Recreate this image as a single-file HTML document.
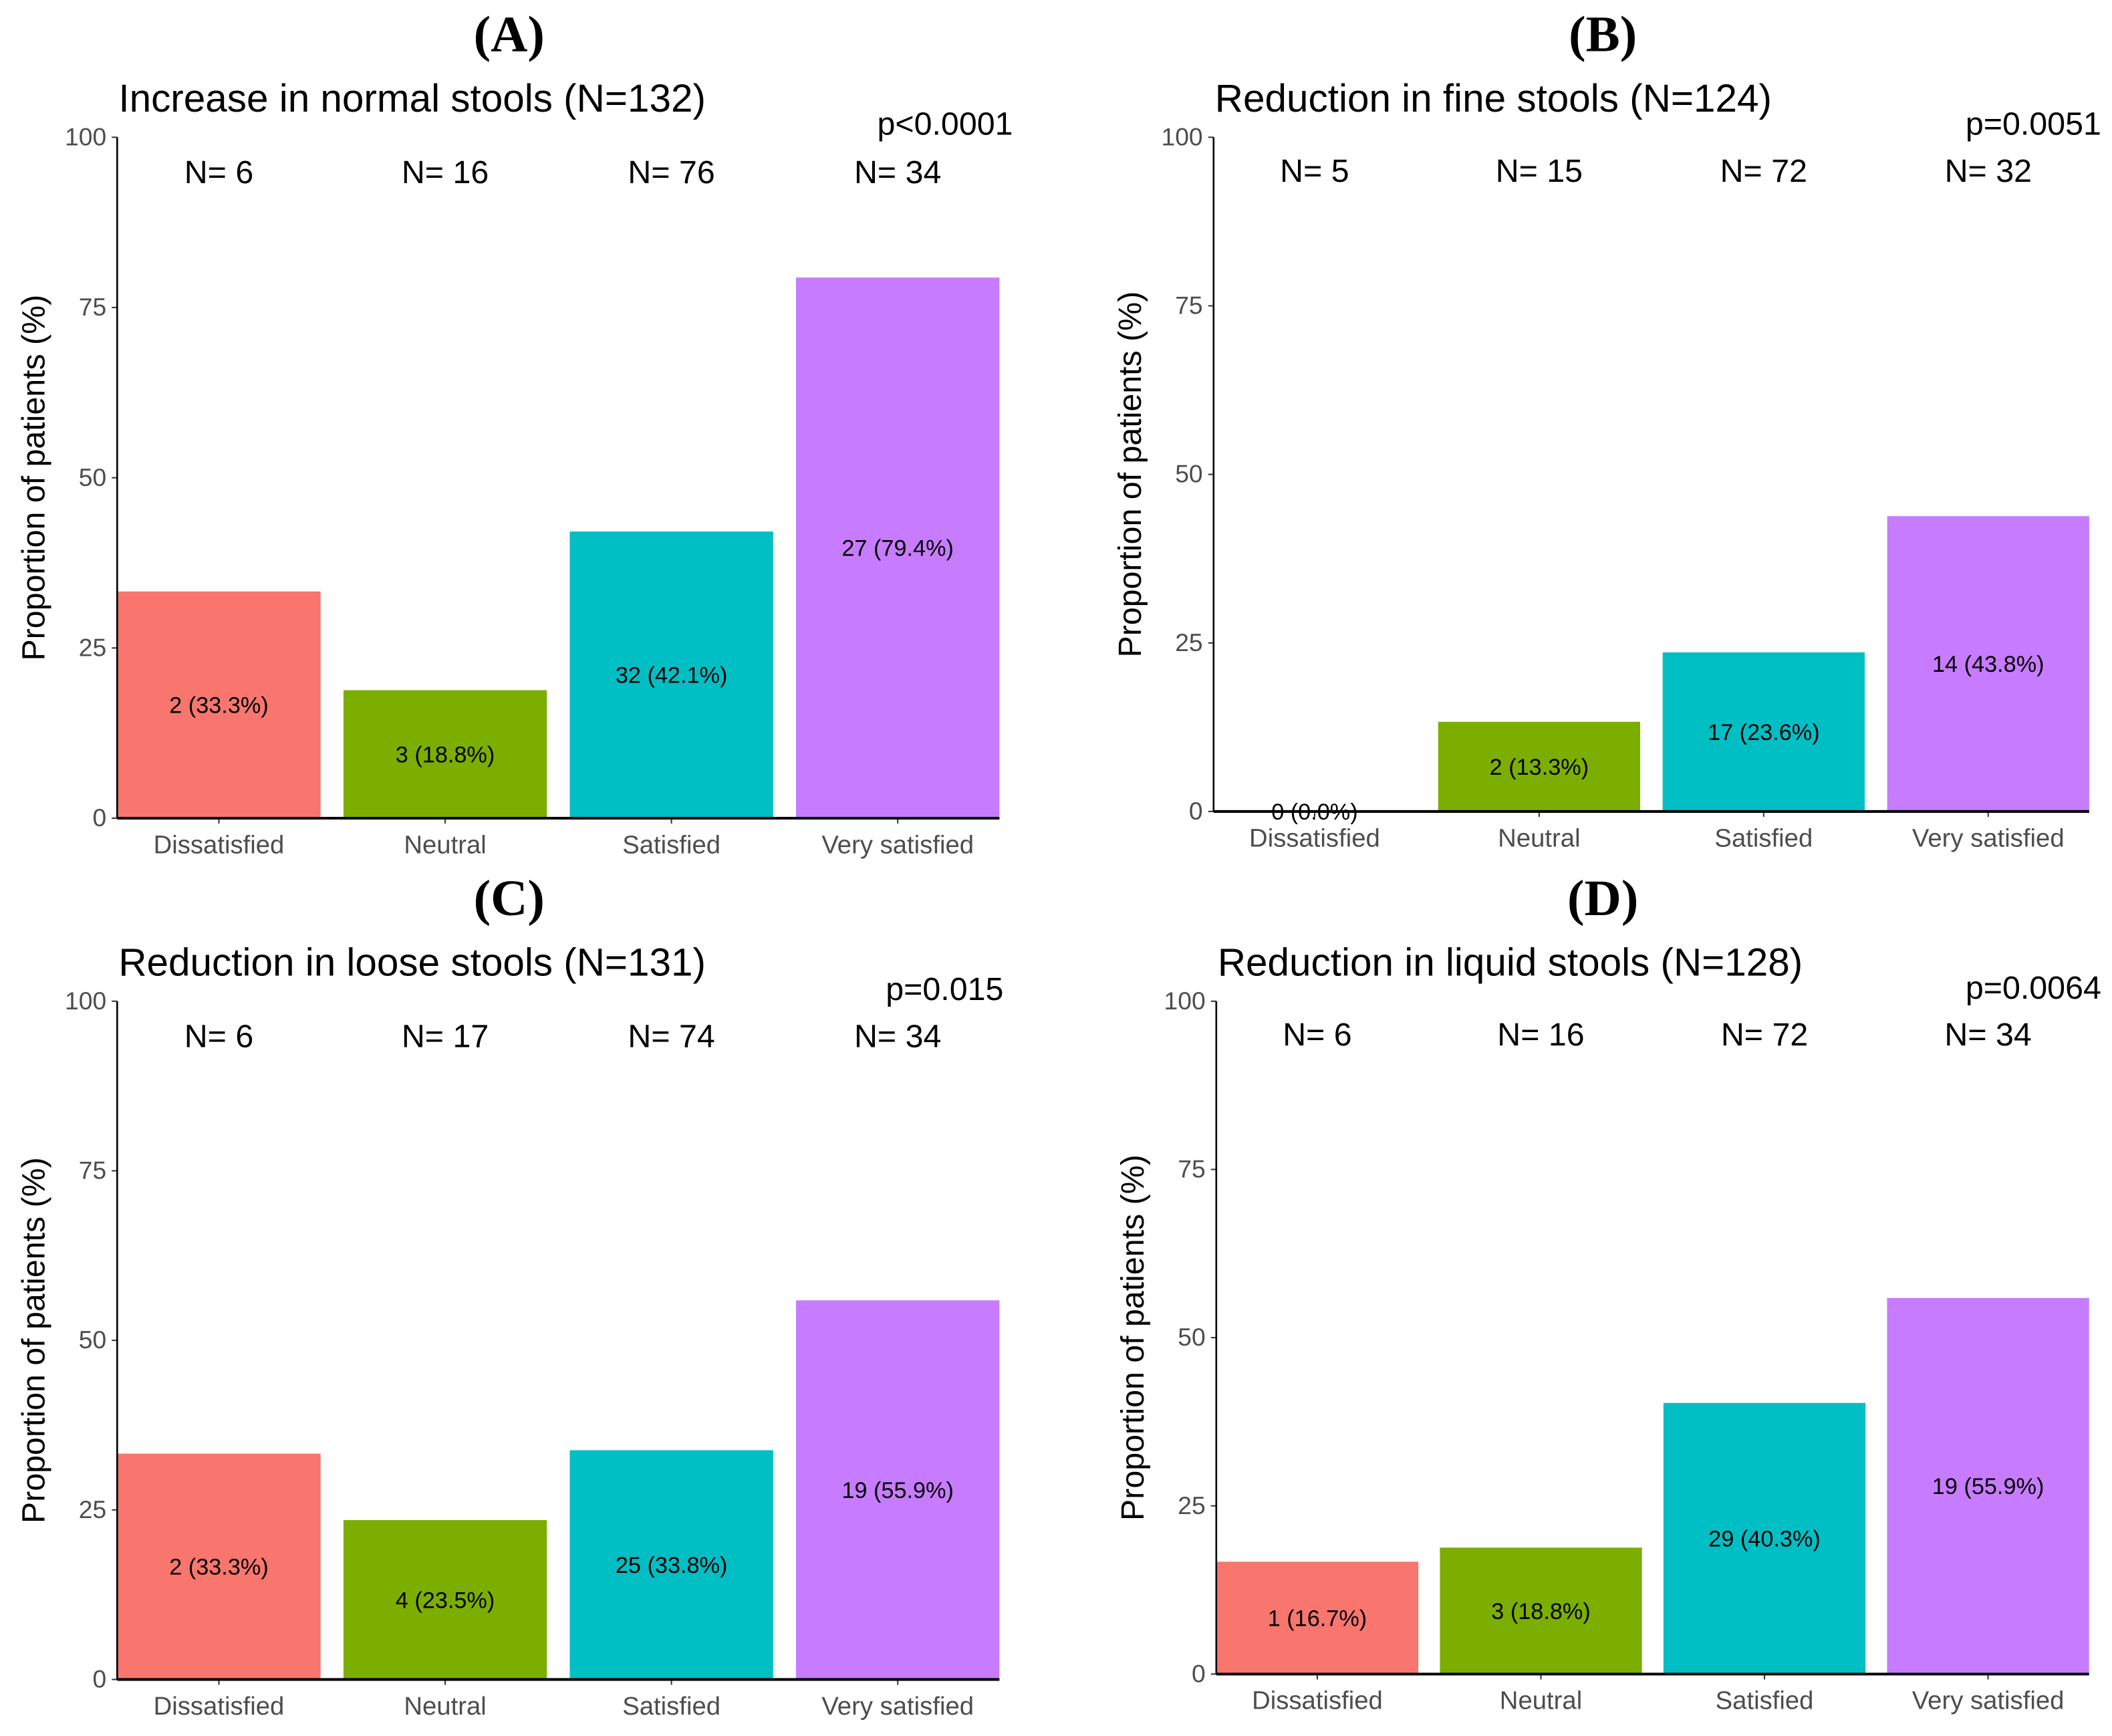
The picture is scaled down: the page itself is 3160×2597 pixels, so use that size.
<!DOCTYPE html>
<html><head><meta charset="utf-8"><style>
html,body{margin:0;padding:0;background:#fff}
svg{display:block}
</style></head><body>
<svg id="fig" width="3160" height="2597" viewBox="0 0 1568 1290" preserveAspectRatio="none" xmlns="http://www.w3.org/2000/svg" font-family="Liberation Sans, Arial, sans-serif"></svg>
<script>
const categories = ["Dissatisfied","Neutral","Satisfied","Very satisfied"];
const colors = ["#F8766D","#7CAE00","#00BFC4","#C77CFF"];
const yTicks = [0,25,50,75,100];
const panelLetters = ["(A)","(B)","(C)","(D)"];
const panelTitles = ["Increase in normal stools (N=132)","Reduction in fine stools (N=124)","Reduction in loose stools (N=131)","Reduction in liquid stools (N=128)"];
const pValues = ["p<0.0001","p=0.0051","p=0.015","p=0.0064"];
const groupNsA = [6,16,76,34];
const groupNsB = [5,15,72,32];
const groupNsC = [6,17,74,34];
const groupNsD = [6,16,72,34];
const countsA = [2,3,32,27];
const countsB = [0,2,17,14];
const countsC = [2,4,25,19];
const countsD = [1,3,29,19];
const pctA = [33.3,18.8,42.1,79.4];
const pctB = [0.0,13.3,23.6,43.8];
const pctC = [33.3,23.5,33.8,55.9];
const pctD = [16.7,18.8,40.3,55.9];

const layouts = [
  {ax:87, y100:102, y0:608, step:168, bw:151, pR:752, pY:92, nY:128, ytX:24, letterX:378, letterY:25},
  {ax:901, y100:102, y0:603, step:166.7, bw:150, pR:1560, pY:92, nY:127, ytX:838, letterX:1190, letterY:25},
  {ax:87, y100:744, y0:1248, step:168, bw:151, pR:745, pY:735, nY:770, ytX:24, letterX:378, letterY:667},
  {ax:903, y100:744, y0:1244, step:166, bw:150, pR:1560, pY:734, nY:769, ytX:840, letterX:1190, letterY:667}
];
const allNs=[groupNsA,groupNsB,groupNsC,groupNsD];
const allCounts=[countsA,countsB,countsC,countsD];
const allPct=[pctA,pctB,pctC,pctD];
const svg=document.getElementById('fig');
const NS='http://www.w3.org/2000/svg';
function mk(tag,attrs,parent,text){const e=document.createElementNS(NS,tag);for(const k in attrs)e.setAttribute(k,attrs[k]);if(text!==undefined)e.textContent=text;parent.appendChild(e);return e;}

layouts.forEach((L,p)=>{
  const g=mk('g',{},svg);
  
  
  const y=v=>L.y0-(L.y0-L.y100)*v/100;
  const xc=i=>L.ax+L.step*i+L.bw/2;
  const lt=mk('text',{x:L.letterX,y:L.letterY+13,'text-anchor':'middle','font-family':'Liberation Serif, serif','font-weight':'bold','font-size':38,fill:'#000'},g,panelLetters[p]);
  
  
  const tt=mk('text',{x:L.ax+1,y:L.y100-19,'font-size':29,fill:'#000'},g,panelTitles[p]);
  
  
  const pv=mk('text',{x:L.pR,y:L.pY+8,'text-anchor':'end','font-size':24,fill:'#000'},g,pValues[p]);
  
  
  const yt=mk('text',{x:L.ytX,y:(L.y0+L.y100)/2,'text-anchor':'middle','font-size':24,fill:'#000',transform:`rotate(-90 ${L.ytX} ${(L.y0+L.y100)/2}) translate(0 9)`},g,'Proportion of patients (%)');
  
  
  yTicks.forEach(t=>{
    const tk=mk('line',{x1:L.ax-4,x2:L.ax,y1:y(t),y2:y(t),stroke:'#333','stroke-width':1},g);
    
    
    const tl=mk('text',{x:L.ax-8,y:y(t)+6,'text-anchor':'end','font-size':18.5,fill:'#4d4d4d'},g,String(t));
    
    
  });
  categories.forEach((c,i)=>{
    const v=allPct[p][i];
    const r=mk('rect',{x:L.ax+L.step*i,y:y(v),width:L.bw,height:L.y0-y(v),fill:colors[i]},g);
    
    
    const vl=mk('text',{x:xc(i),y:y(v/2)+6,'text-anchor':'middle','font-size':17,fill:'#000'},g,allCounts[p][i]+' ('+v.toFixed(1)+'%)');
    
    
    const nl=mk('text',{x:xc(i),y:L.nY+8,'text-anchor':'middle','font-size':24,fill:'#000'},g,'N= '+allNs[p][i]);
    
    
    const xt=mk('line',{x1:xc(i),x2:xc(i),y1:L.y0,y2:L.y0+4,stroke:'#333','stroke-width':1},g);
    
    
    const xl=mk('text',{x:xc(i),y:L.y0+26,'text-anchor':'middle','font-size':19,fill:'#4d4d4d'},g,c);
    
    
  });
  const ya=mk('line',{x1:L.ax,x2:L.ax,y1:L.y100,y2:L.y0,stroke:'#000','stroke-width':1.3},g);
  
  
  const xa=mk('line',{x1:L.ax,x2:L.ax+L.step*3+L.bw,y1:L.y0,y2:L.y0,stroke:'#000','stroke-width':2},g);
  
  
});
</script>
</body></html>
